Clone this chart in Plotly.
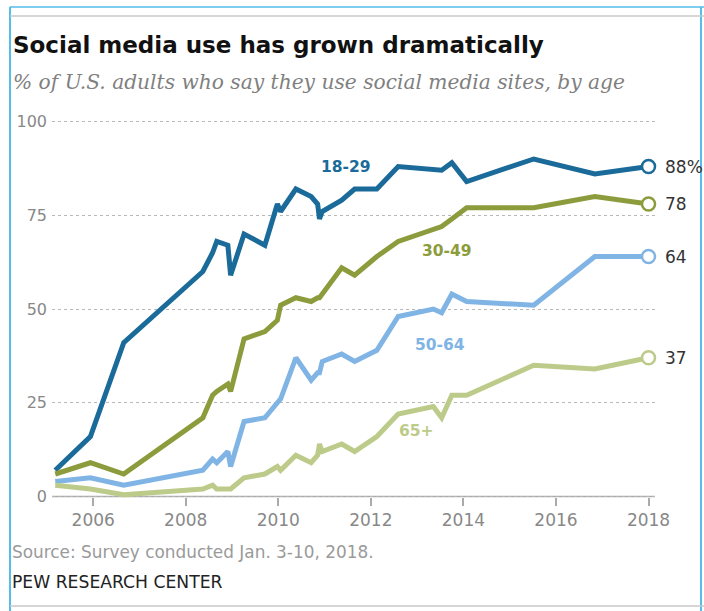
import plotly.graph_objects as go

# ---- data ----
dates = [2005.18, 2005.94, 2006.66, 2008.37, 2008.58, 2008.67, 2008.91, 2008.97,
         2009.26, 2009.71, 2009.98, 2010.05, 2010.38, 2010.71, 2010.85, 2010.89,
         2010.95, 2011.37, 2011.65, 2012.13, 2012.59, 2013.35, 2013.53, 2013.75,
         2014.07, 2015.52, 2016.84, 2018.0]
age_18_29 = [7, 16, 41, 60, 65, 68, 67, 59, 70, 67, 78, 76, 82, 80, 78, 74, 76, 79,
             82, 82, 88, 87, 87, 89, 84, 90, 86, 88]
age_30_49 = [6, 9, 6, 21, 27, 28, 30, 28, 42, 44, 47, 51, 53, 52, 53, 53, 54, 61,
             59, 64, 68, 71, 72, 74, 77, 77, 80, 78]
age_50_64 = [4, 5, 3, 7, 10, 9, 12, 8, 20, 21, 25, 26, 37, 31, 33, 33, 36, 38,
             36, 39, 48, 50, 49, 54, 52, 51, 64, 64]
age_65_up = [3, 2, 0.5, 2, 3, 2, 2, 2, 5, 6, 8, 7, 11, 9, 11, 14, 12, 14,
             12, 16, 22, 24, 21, 27, 27, 35, 34, 37]

series_names = ["18-29", "30-49", "50-64", "65+"]
series_values = [age_18_29, age_30_49, age_50_64, age_65_up]
series_colors = ["#1a6a9a", "#8c9c3c", "#80b4e4", "#bccb89"]
end_labels = ["88%", "78", "64", "37"]
label_pos = [(2011.46, 88.0), (2013.64, 65.4), (2013.49, 40.5), (2012.99, 17.4)]

x_ticks = [2006, 2008, 2010, 2012, 2014, 2016, 2018]
y_ticks = [0, 25, 50, 75, 100]

W, H = 704, 611
L, R, T, B = 52, 49, 114, 107
PW, PH = W - L - R, H - T - B

def px(xp):
    return (xp - L) / PW

def py(yp):
    return (H - B - yp) / PH

FONT = "DejaVu Sans, Verdana, sans-serif"

fig = go.Figure()
for name, vals, col in zip(series_names, series_values, series_colors):
    fig.add_trace(go.Scatter(x=dates, y=vals, mode="lines", name=name,
                             line=dict(color=col, width=5, shape="linear"),
                             hoverinfo="skip"))
for vals, col in zip(series_values, series_colors):
    fig.add_trace(go.Scatter(x=[dates[-1]], y=[vals[-1]], mode="markers",
                             marker=dict(size=13, color="white",
                                         line=dict(color=col, width=2.5)),
                             cliponaxis=False, hoverinfo="skip"))

annotations = []
for (lx, ly), name, col in zip(label_pos, series_names, series_colors):
    annotations.append(dict(x=lx, y=ly, xref="x", yref="y", text="<b>%s</b>" % name,
                            showarrow=False, font=dict(family=FONT, size=15.5, color=col)))
for vals, lab in zip(series_values, end_labels):
    annotations.append(dict(x=dates[-1], y=vals[-1], xref="x", yref="y", text=lab,
                            xanchor="left", yanchor="middle", xshift=14, showarrow=False,
                            font=dict(family=FONT, size=17, color="#333333")))

annotations += [
    dict(x=px(11), y=py(45), xref="paper", yref="paper", xanchor="left", yanchor="middle",
         text="<b>Social media use has grown dramatically</b>", showarrow=False,
         font=dict(family=FONT, size=23, color="#111111")),
    dict(x=px(11), y=py(82), xref="paper", yref="paper", xanchor="left", yanchor="middle",
         text="<i>% of U.S. adults who say they use social media sites, by age</i>",
         showarrow=False, font=dict(family="DejaVu Serif, serif", size=20.2, color="#808080")),
    dict(x=px(10), y=py(552), xref="paper", yref="paper", xanchor="left", yanchor="middle",
         text="Source: Survey conducted Jan. 3-10, 2018.", showarrow=False,
         font=dict(family=FONT, size=16.9, color="#9a9a9a")),
    dict(x=px(10), y=py(582), xref="paper", yref="paper", xanchor="left", yanchor="middle",
         text="PEW RESEARCH CENTER", showarrow=False,
         font=dict(family=FONT, size=17.2, color="#222222")),
]

shapes = [
    dict(type="line", xref="paper", yref="y", x0=0, x1=1, y0=0, y1=0,
         line=dict(color="#aaaaaa", width=1.5), layer="below"),
    dict(type="line", xref="paper", yref="paper", x0=px(10), x1=px(10), y0=py(7), y1=py(611),
         line=dict(color="#55bde8", width=2)),
    dict(type="line", xref="paper", yref="paper", x0=px(701), x1=px(701), y0=py(7), y1=py(611),
         line=dict(color="#55bde8", width=2)),
    dict(type="line", xref="paper", yref="paper", x0=px(10), x1=px(704), y0=py(7), y1=py(7),
         line=dict(color="#55bde8", width=1.5)),
    dict(type="line", xref="paper", yref="paper", x0=px(10), x1=px(704), y0=py(16), y1=py(16),
         line=dict(color="#c8c8c8", width=1.5)),
    dict(type="line", xref="paper", yref="paper", x0=px(10), x1=px(704), y0=py(606), y1=py(606),
         line=dict(color="#c8c8c8", width=1.5)),
]

fig.update_layout(
    width=W, height=H,
    margin=dict(l=L, r=R, t=T, b=B),
    paper_bgcolor="white", plot_bgcolor="white",
    showlegend=False,
    annotations=annotations,
    shapes=shapes,
    xaxis=dict(range=[2005.11, 2018.14], tickvals=x_ticks, ticktext=[str(v) for v in x_ticks],
               showgrid=False, zeroline=False, showline=False,
               ticks="outside", ticklen=8, tickcolor="#aaaaaa", tickwidth=1.5,
               anchor="free", position=2 / 104,
               tickfont=dict(family=FONT, size=17, color="#888888")),
    yaxis=dict(range=[-2, 102], tickvals=y_ticks, ticktext=[str(v) for v in y_ticks],
               showgrid=True, gridcolor="#b8b8b8", griddash="dot", gridwidth=1,
               zeroline=False, showline=False, ticks="", ticklabelstandoff=4,
               tickfont=dict(family=FONT, size=16, color="#888888")),
)

fig.write_html("out.html", config={"displayModeBar": False},
               post_script="document.body.style.margin='0';document.body.style.overflow='hidden';")
